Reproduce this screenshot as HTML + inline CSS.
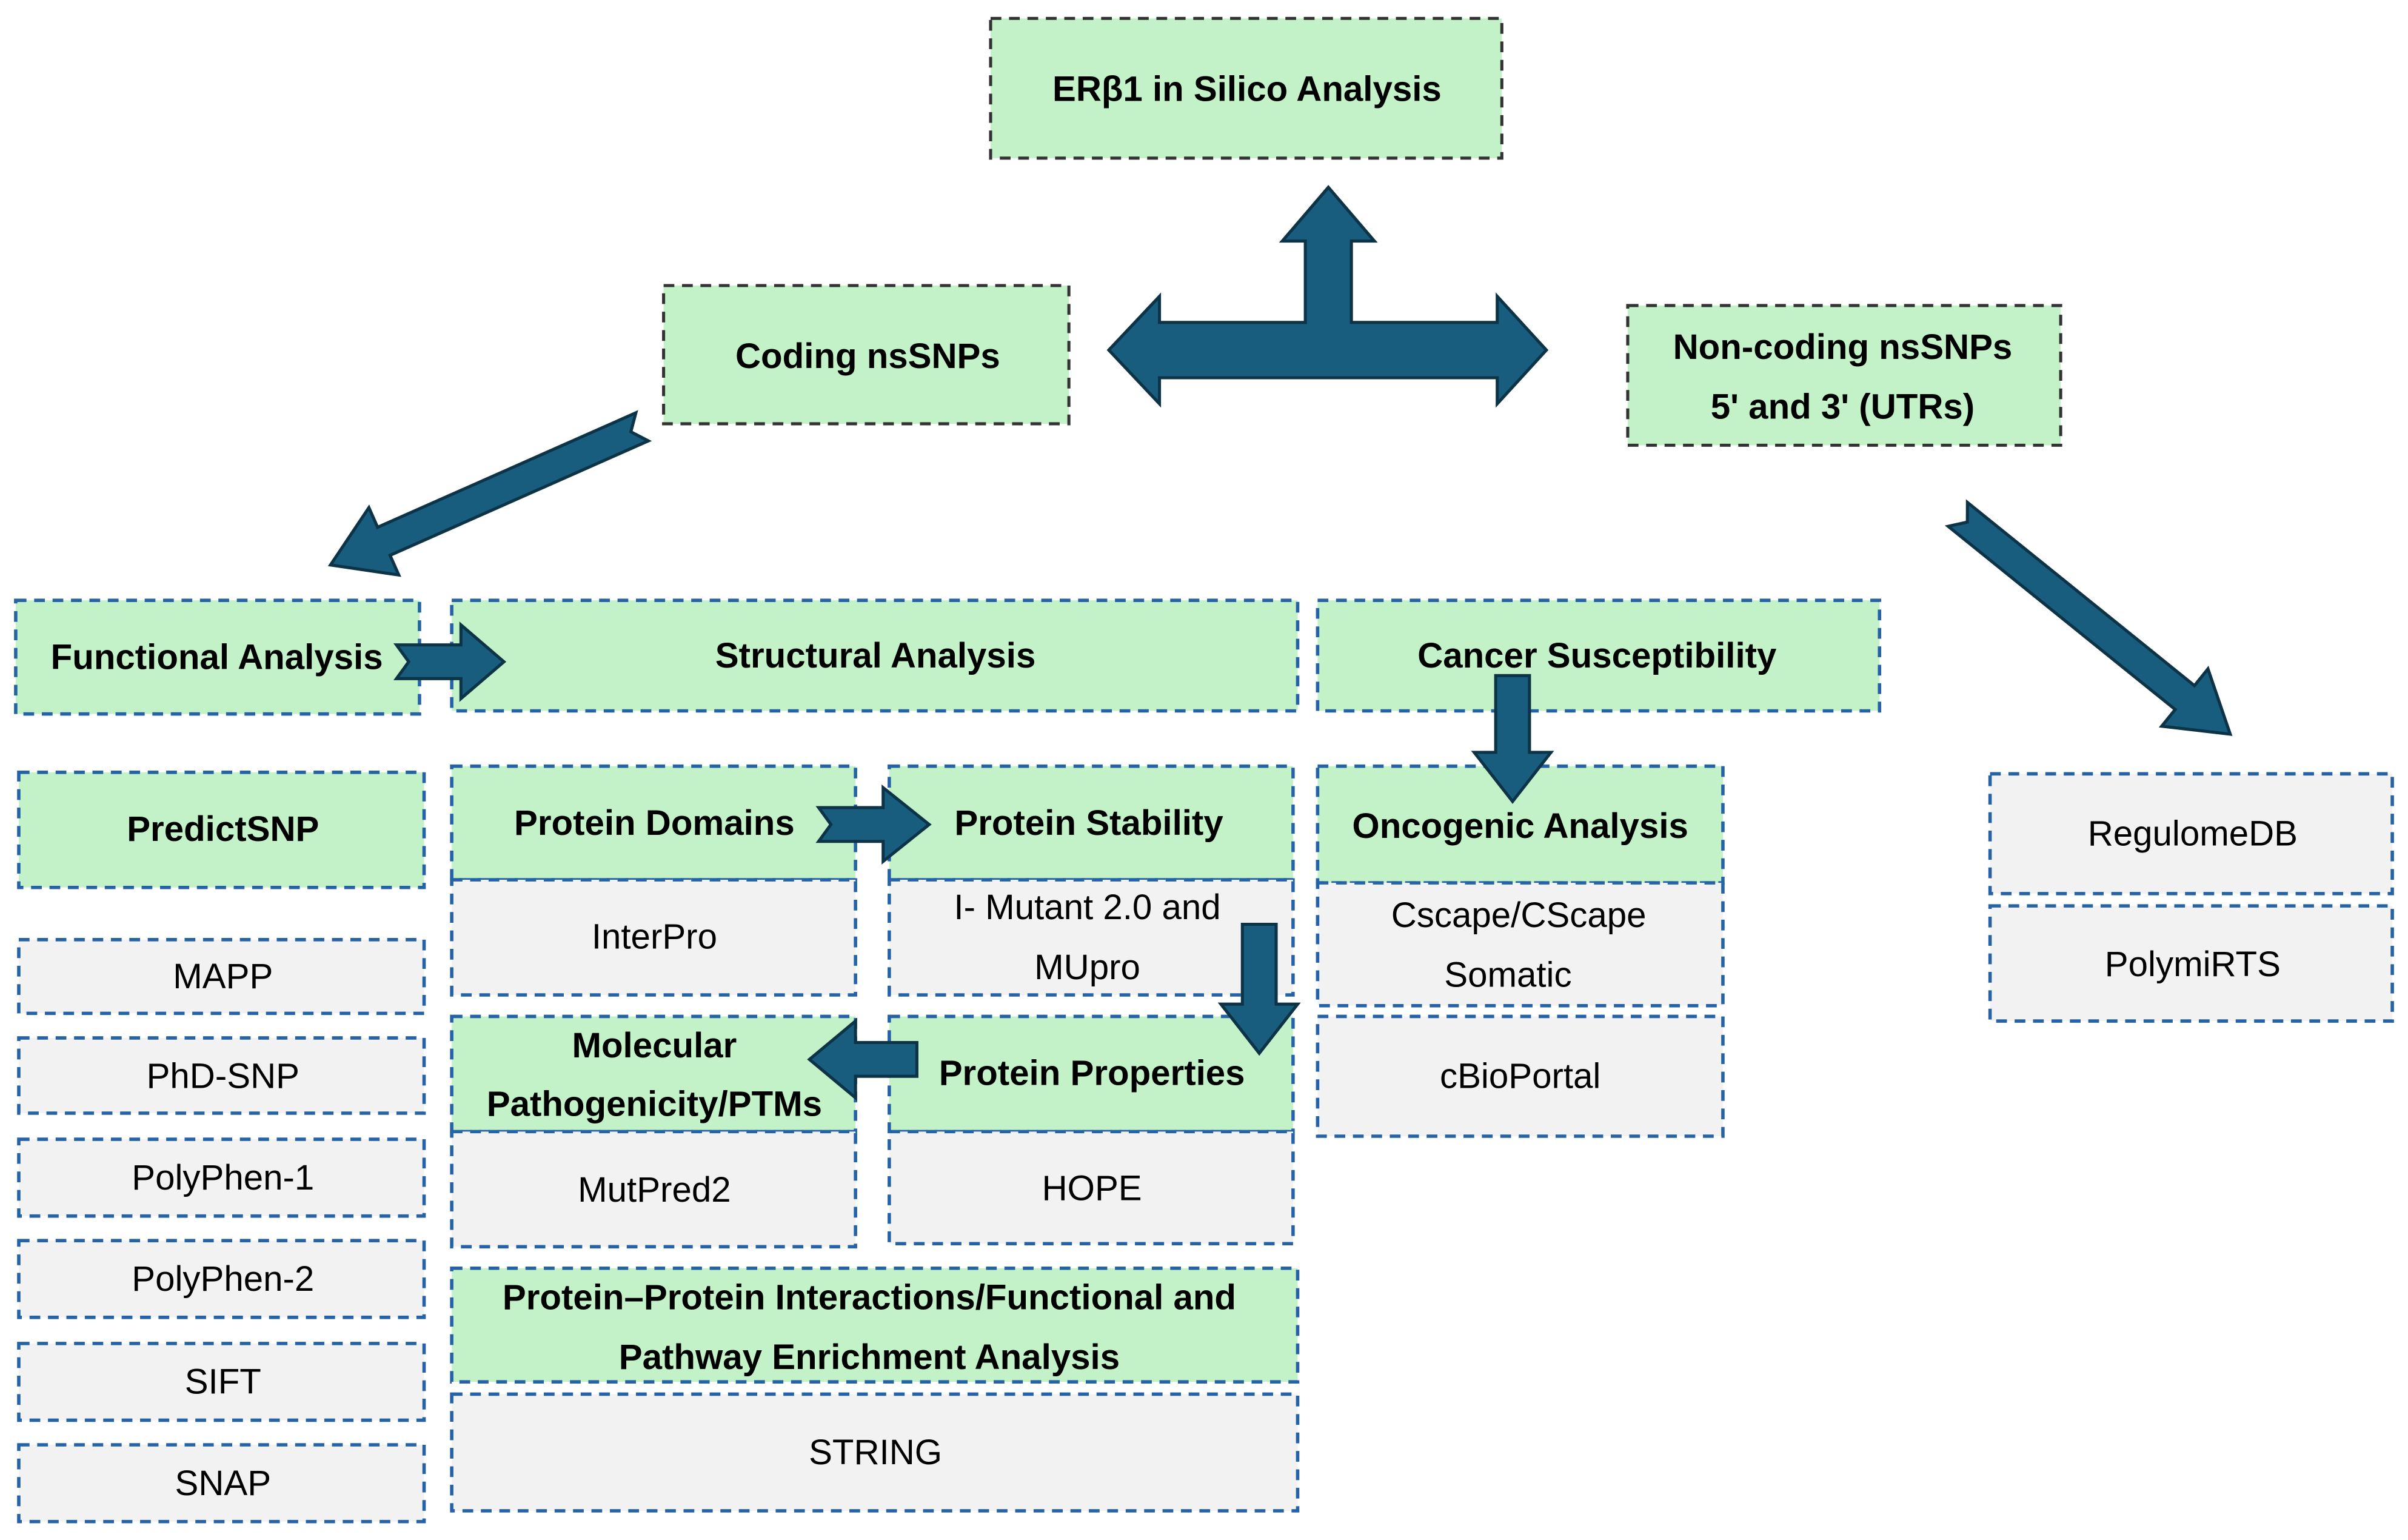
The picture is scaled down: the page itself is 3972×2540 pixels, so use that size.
<!DOCTYPE html>
<html><head><meta charset="utf-8"><style>html,body{margin:0;padding:0;background:#fff}svg{display:block}</style></head>
<body>
<svg xmlns="http://www.w3.org/2000/svg" width="3972" height="2540" viewBox="0 0 1568 1003">
<defs>
<style>
.g{fill:#c3f2c9}.q{fill:#f2f2f2}
.bb{fill:none;stroke:#2563a6;stroke-width:2.2;stroke-dasharray:7,5}
.kb{fill:none;stroke:#333;stroke-width:2;stroke-dasharray:7,5}
text{font-family:"Liberation Sans",sans-serif;font-size:23px;text-anchor:middle;fill:#000;dominant-baseline:central}
.b{font-weight:bold}
.ar{fill:#185c7e;stroke:#0d3347;stroke-width:2;stroke-linejoin:miter}
</style>
</defs>
<!-- top boxes -->
<rect x="645" y="12" width="333" height="91" class="g"/><rect x="645" y="12" width="333" height="91" class="kb"/>
<text x="812" y="58" class="b">ERβ1 in Silico Analysis</text>
<rect x="432" y="186" width="264" height="90" class="g"/><rect x="432" y="186" width="264" height="90" class="kb"/>
<text x="565" y="232" class="b">Coding nsSNPs</text>
<rect x="1060" y="199" width="282" height="91" class="g"/><rect x="1060" y="199" width="282" height="91" class="kb"/>
<text x="1200" y="226" class="b">Non-coding nsSNPs</text>
<text x="1200" y="265" class="b">5' and 3'  (UTRs)</text>

<!-- T arrow -->
<polygon class="ar" points="722,228 755,193 755,210 850,210 850,157 835,157 865,122 895,157 880,157 880,210 975,210 975,193 1007,228 975,263 975,246 755,246 755,263"/>

<!-- diagonal arrows -->
<g transform="translate(418,278) rotate(156.1)"><polygon class="ar" points="0,-10 8,0 0,10 0,10 184,10 184,24 222,0 184,-24 184,-10"/></g>
<g transform="translate(1275,335) rotate(38.9)"><polygon class="ar" points="0,-10 8,0 0,10 190,10 190,24 228,0 190,-24 190,-10"/></g>

<!-- row headers -->
<rect x="10" y="391" width="263" height="74" class="g"/><rect x="10" y="391" width="263" height="74" class="bb"/>
<text x="141" y="428" class="b">Functional Analysis</text>
<rect x="294" y="391" width="551" height="72" class="g"/><rect x="294" y="391" width="551" height="72" class="bb"/>
<text x="570" y="427" class="b">Structural Analysis</text>
<rect x="858" y="391" width="366" height="72" class="g"/><rect x="858" y="391" width="366" height="72" class="bb"/>
<text x="1040" y="427" class="b">Cancer Susceptibility</text>

<!-- functional column -->
<rect x="12" y="503" width="264" height="75" class="g"/><rect x="12" y="503" width="264" height="75" class="bb"/>
<text x="145" y="540" class="b">PredictSNP</text>
<g>
<rect x="12" y="612" width="264" height="48" class="q"/><rect x="12" y="612" width="264" height="48" class="bb"/><text x="145" y="636">MAPP</text>
<rect x="12" y="676" width="264" height="49" class="q"/><rect x="12" y="676" width="264" height="49" class="bb"/><text x="145" y="701">PhD-SNP</text>
<rect x="12" y="742" width="264" height="50" class="q"/><rect x="12" y="742" width="264" height="50" class="bb"/><text x="145" y="767">PolyPhen-1</text>
<rect x="12" y="808" width="264" height="50" class="q"/><rect x="12" y="808" width="264" height="50" class="bb"/><text x="145" y="833">PolyPhen-2</text>
<rect x="12" y="875" width="264" height="50" class="q"/><rect x="12" y="875" width="264" height="50" class="bb"/><text x="145" y="900">SIFT</text>
<rect x="12" y="941" width="264" height="50" class="q"/><rect x="12" y="941" width="264" height="50" class="bb"/><text x="145" y="966">SNAP</text>
</g>

<!-- structural -->
<rect x="294" y="499" width="263" height="74" class="g"/><rect x="294" y="499" width="263" height="74" class="bb"/>
<text x="426" y="536" class="b">Protein Domains</text>
<rect x="294" y="573" width="263" height="75" class="q"/><rect x="294" y="573" width="263" height="75" class="bb"/>
<text x="426" y="610">InterPro</text>
<rect x="579" y="499" width="263" height="74" class="g"/><rect x="579" y="499" width="263" height="74" class="bb"/>
<text x="709" y="536" class="b">Protein Stability</text>
<rect x="579" y="573" width="263" height="75" class="q"/><rect x="579" y="573" width="263" height="75" class="bb"/>
<text x="708" y="591">I- Mutant 2.0 and</text><text x="708" y="630">MUpro</text>
<rect x="294" y="662" width="263" height="75" class="g"/><rect x="294" y="662" width="263" height="75" class="bb"/>
<text x="426" y="681" class="b">Molecular</text><text x="426" y="719" class="b">Pathogenicity/PTMs</text>
<rect x="294" y="737" width="263" height="75" class="q"/><rect x="294" y="737" width="263" height="75" class="bb"/>
<text x="426" y="775">MutPred2</text>
<rect x="579" y="662" width="263" height="75" class="g"/><rect x="579" y="662" width="263" height="75" class="bb"/>
<text x="711" y="699" class="b">Protein Properties</text>
<rect x="579" y="737" width="263" height="73" class="q"/><rect x="579" y="737" width="263" height="73" class="bb"/>
<text x="711" y="774">HOPE</text>
<rect x="294" y="826" width="551" height="74" class="g"/><rect x="294" y="826" width="551" height="74" class="bb"/>
<text x="566" y="845" class="b">Protein–Protein Interactions/Functional and</text>
<text x="566" y="884" class="b">Pathway Enrichment Analysis</text>
<rect x="294" y="908" width="551" height="76" class="q"/><rect x="294" y="908" width="551" height="76" class="bb"/>
<text x="570" y="946">STRING</text>

<!-- cancer -->
<rect x="858" y="499" width="264" height="76" class="g"/><rect x="858" y="499" width="264" height="76" class="bb"/>
<text x="990" y="538" class="b">Oncogenic  Analysis</text>
<rect x="858" y="575" width="264" height="80" class="q"/><rect x="858" y="575" width="264" height="80" class="bb"/>
<text x="989" y="596">Cscape/CScape</text><text x="982" y="635">Somatic</text>
<rect x="858" y="662" width="264" height="78" class="q"/><rect x="858" y="662" width="264" height="78" class="bb"/>
<text x="990" y="701">cBioPortal</text>

<!-- non-coding -->
<rect x="1296" y="504" width="262" height="78" class="q"/><rect x="1296" y="504" width="262" height="78" class="bb"/>
<text x="1428" y="543">RegulomeDB</text>
<rect x="1296" y="590" width="262" height="75" class="q"/><rect x="1296" y="590" width="262" height="75" class="bb"/>
<text x="1428" y="628">PolymiRTS</text>

<!-- small arrows -->
<g transform="translate(258,431)"><polygon class="ar" points="0,-11 8,0 0,11 42,11 42,24 70,0 42,-24 42,-11"/></g>
<g transform="translate(533,537)"><polygon class="ar" points="0,-11 8,0 0,11 42,11 42,24 72,0 42,-24 42,-11"/></g>
<g transform="translate(985,440) rotate(90)"><polygon class="ar" points="0,-11 0,11 50,11 50,25 82,0 50,-25 50,-11"/></g>
<g transform="translate(820,602) rotate(90)"><polygon class="ar" points="0,-11 0,11 52,11 52,25 84,0 52,-25 52,-11"/></g>
<g transform="translate(597,690) rotate(180)"><polygon class="ar" points="0,-11 0,11 40,11 40,25 70,0 40,-25 40,-11"/></g>
</svg>
</body></html>
